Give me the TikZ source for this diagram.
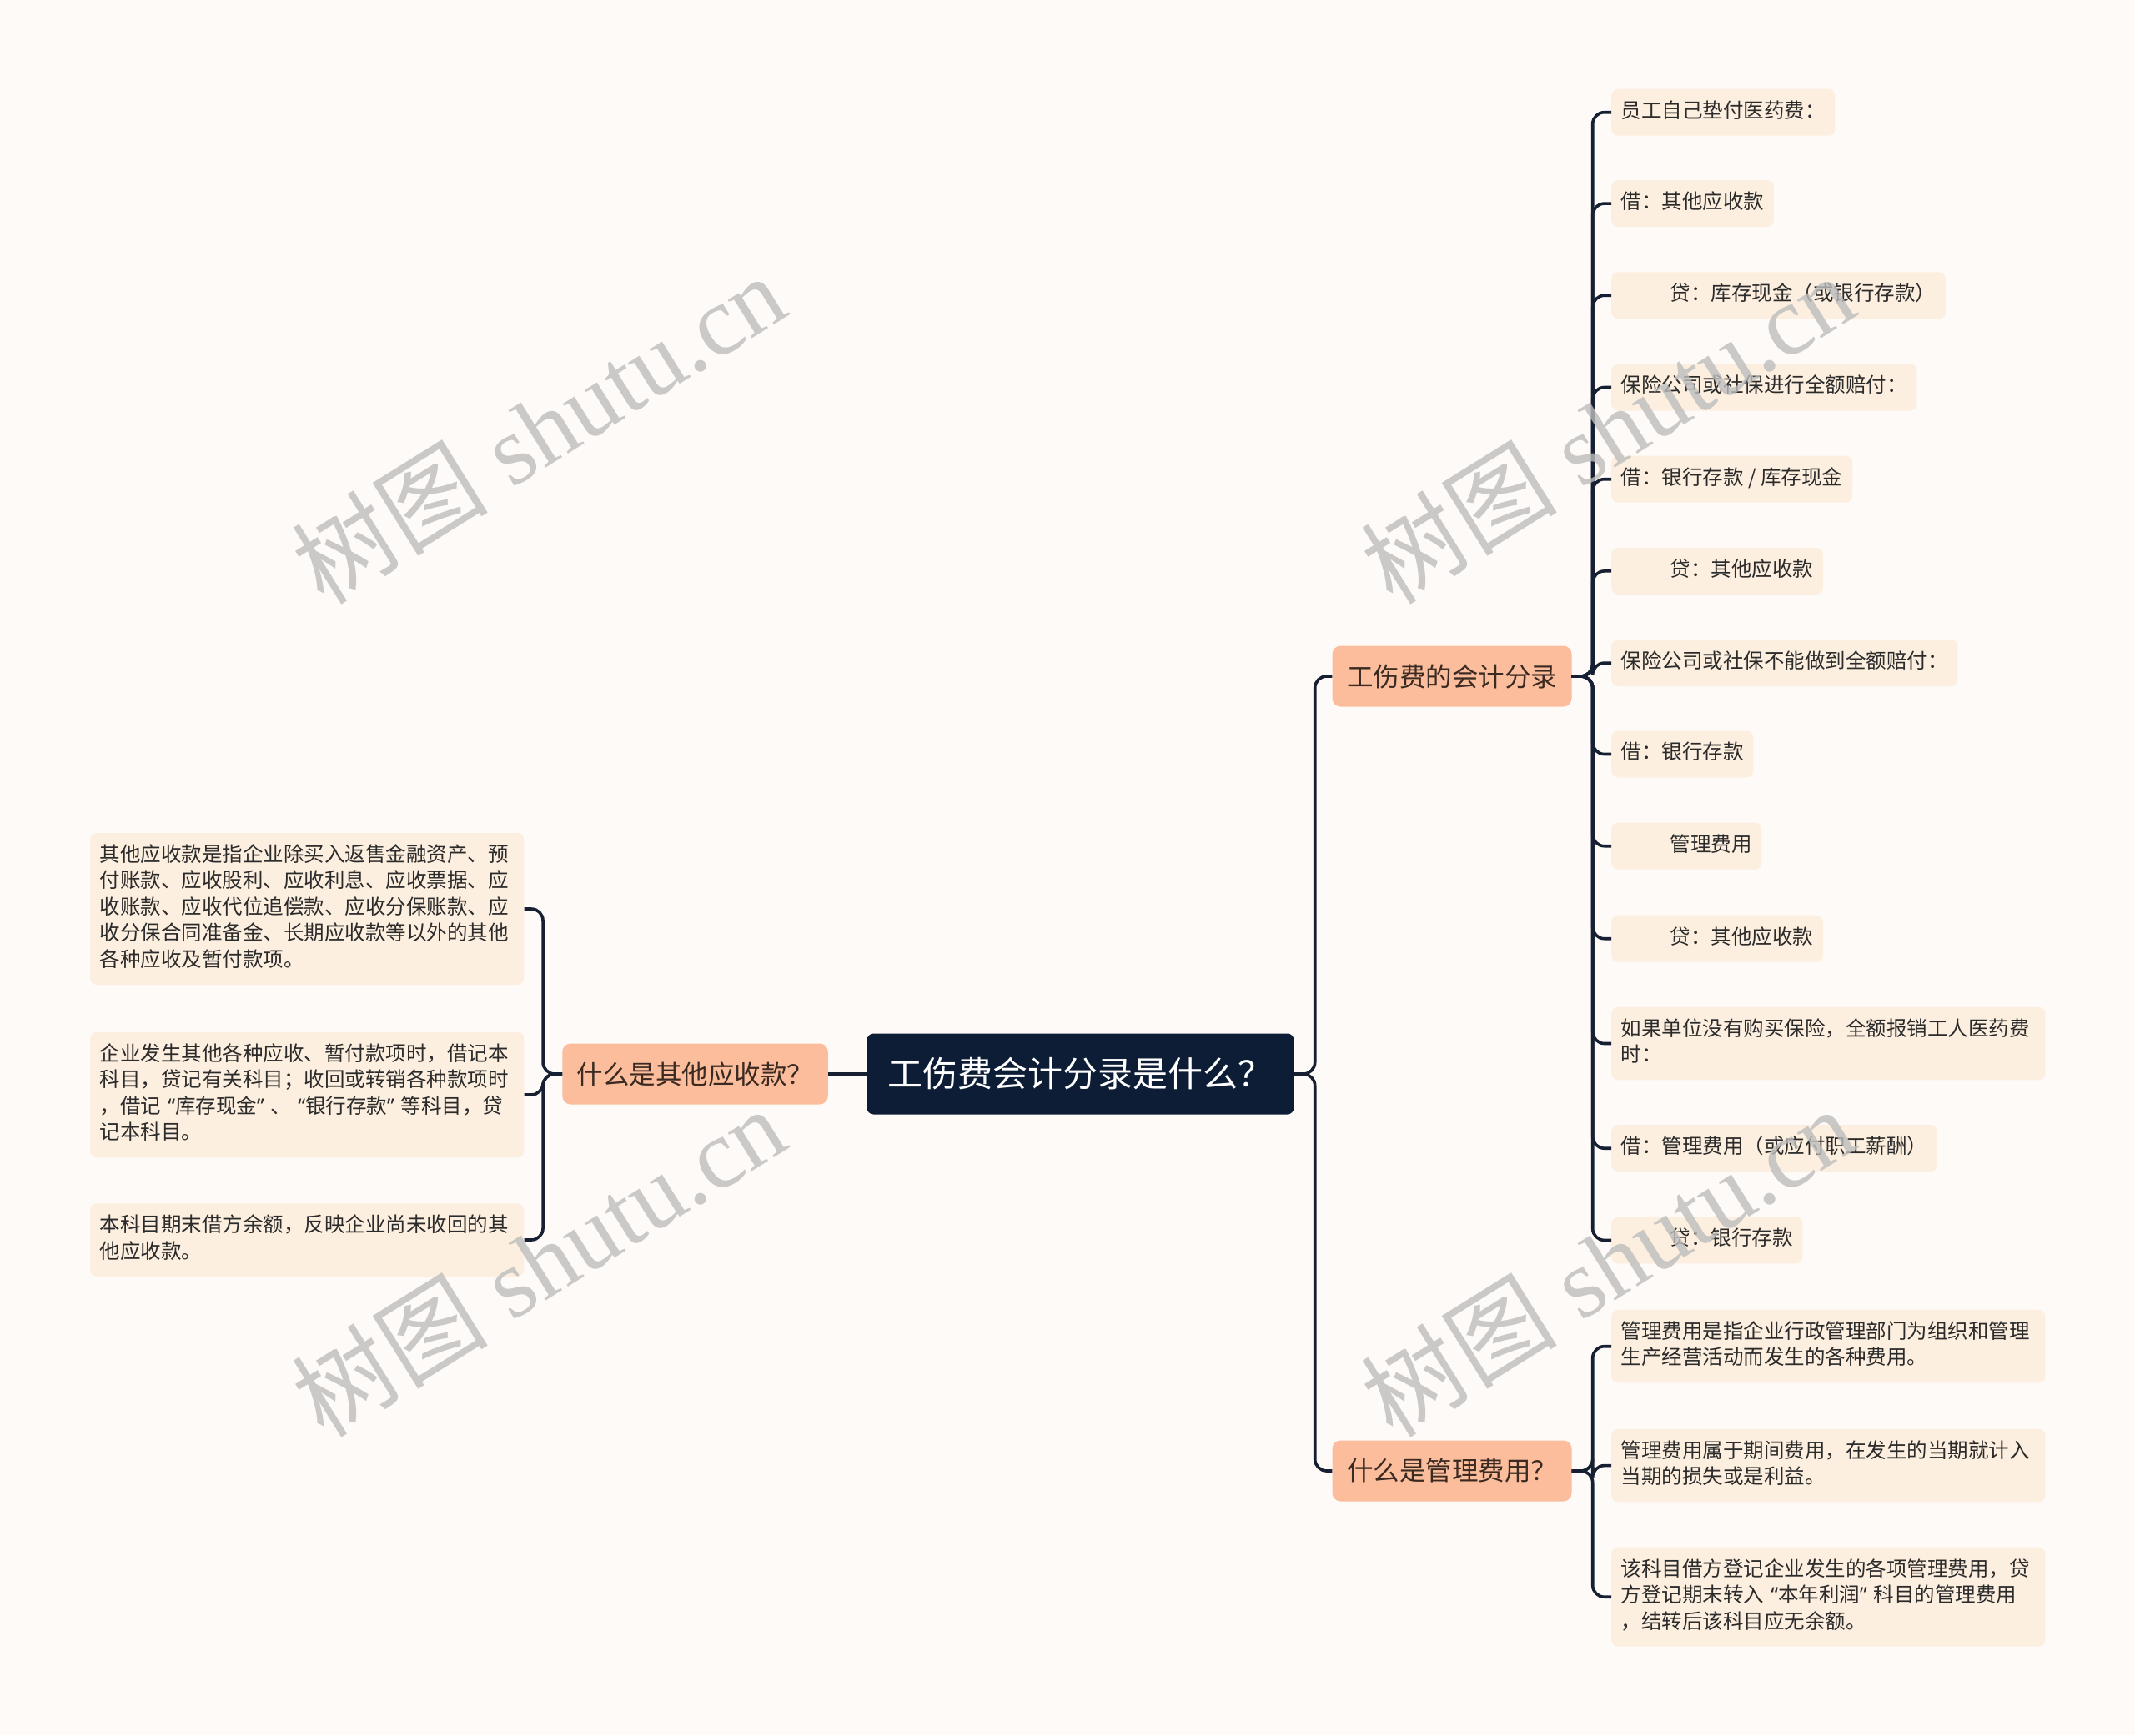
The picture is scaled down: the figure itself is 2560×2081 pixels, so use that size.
\documentclass[tikz,border=0pt]{standalone}
\usepackage{fontspec}
\newfontfamily\cjk{Noto Sans CJK SC}
\newfontfamily\latq{Noto Sans}
\newfontfamily\wmserif{Liberation Serif}
\newcommand\oq{\hspace{8pt}{\latq “}}
\newcommand\cq{{\latq ”}\hspace{8pt}}
\definecolor{bgc}{HTML}{FEFAF8}
\definecolor{leafc}{HTML}{FDEFDF}
\definecolor{branchc}{HTML}{FBBD9B}
\definecolor{rootc}{HTML}{0D1D36}
\definecolor{linec}{HTML}{172033}
\definecolor{leaftext}{HTML}{2B2B2B}
\definecolor{branchtext}{HTML}{3A2A22}
\definecolor{wmc}{HTML}{BDBDBD}
\newcommand\leaffont{\cjk\fontsize{24.5}{31.5}\selectfont}
\newcommand\branchfont{\cjk\fontsize{31.5}{38}\selectfont}
\newcommand\rootfont{\cjk\fontsize{42}{50}\selectfont}
\tikzset{
  leaf/.style={fill=leafc, rounded corners=8pt, inner xsep=11.6pt, inner ysep=12.25pt,
    font=\leaffont, text=leaftext, align=left, anchor=west},
  wleaf/.style={leaf, text width=497pt},
  branch/.style={fill=branchc, rounded corners=10pt, font=\branchfont, inner xsep=17.5pt,
    inner ysep=0pt, minimum height=73pt, text=branchtext},
  rootn/.style={fill=rootc, rounded corners=8pt, font=\rootfont, text=white, inner xsep=25pt,
    inner ysep=0pt, minimum height=97pt},
  conn/.style={draw=linec, line width=3.6pt, rounded corners=14pt},
  wm/.style={rotate=32, text=wmc, opacity=0.8, font=\wmserif\fontsize{118}{118}\selectfont}
}
\begin{document}
\begin{tikzpicture}[x=1pt,y=-1pt]
\useasboundingbox (0,0) rectangle (2560,2081);
\fill[bgc] (0,0) rectangle (2560,2081);

% root and branches
\node[rootn] (root) at (1295.5,1288) {工伤费会计分录是什么？};
\node[branch] (lb) at (833.5,1288) {什么是其他应收款？};
\node[branch] (r1) at (1741,811) {工伤费的会计分录};
\node[branch] (r2) at (1741,1764) {什么是管理费用？};

% right branch 1 leaves
\node[leaf] (a1) at (1932,134.7) {\strut 员工自己垫付医药费：};
\node[leaf] (a2) at (1932,244.1) {\strut 借：其他应收款};
\node[leaf] (a3) at (1932,354.3) {\strut\hspace*{59pt}贷：库存现金（或银行存款）};
\node[leaf] (a4) at (1932,464.5) {\strut 保险公司或社保进行全额赔付：};
\node[leaf] (a5) at (1932,574.7) {\strut 借：银行存款 / 库存现金};
\node[leaf] (a6) at (1932,684.9) {\strut\hspace*{59pt}贷：其他应收款};
\node[leaf] (a7) at (1932,795.1) {\strut 保险公司或社保不能做到全额赔付：};
\node[leaf] (a8) at (1932,904.5) {\strut 借：银行存款};
\node[leaf] (a9) at (1932,1014.7) {\strut\hspace*{59pt}管理费用};
\node[leaf] (a10) at (1932,1125.7) {\strut\hspace*{59pt}贷：其他应收款};
\node[wleaf] (a11) at (1932,1251.5) {\strut 如果单位没有购买保险，全额报销工人医药费\\\strut 时：};
\node[leaf] (a12) at (1932,1377.2) {\strut 借：管理费用（或应付职工薪酬）};
\node[leaf] (a13) at (1932,1487.4) {\strut\hspace*{59pt}贷：银行存款};

% right branch 2 leaves
\node[wleaf] (b1) at (1932,1614.7) {\strut 管理费用是指企业行政管理部门为组织和管理\\\strut 生产经营活动而发生的各种费用。};
\node[wleaf] (b2) at (1932,1757.6) {\strut 管理费用属于期间费用，在发生的当期就计入\\\strut 当期的损失或是利益。};
\node[wleaf] (b3) at (1932,1915.2) {\strut 该科目借方登记企业发生的各项管理费用，贷\\\strut 方登记期末转入\oq 本年利润\cq 科目的管理费用\\\strut ，结转后该科目应无余额。};

% left leaves
\node[wleaf] (c1) at (108,1090) {\strut 其他应收款是指企业除买入返售金融资产、预\\\strut 付账款、应收股利、应收利息、应收票据、应\\\strut 收账款、应收代位追偿款、应收分保账款、应\\\strut 收分保合同准备金、长期应收款等以外的其他\\\strut 各种应收及暂付款项。};
\node[wleaf] (c2) at (108,1313) {\strut 企业发生其他各种应收、暂付款项时，借记本\\\strut 科目，贷记有关科目；收回或转销各种款项时\\\strut ，借记\oq 库存现金\cq 、\oq 银行存款\cq 等科目，贷\\\strut 记本科目。};
\node[wleaf] (c3) at (108,1487) {\strut 本科目期末借方余额，反映企业尚未收回的其\\\strut 他应收款。};

% connectors
\draw[conn] (root.west) -- (lb.east);
\foreach \t in {r1,r2} \draw[conn] (root.east) -- ++(25,0) |- (\t.west);
\foreach \t in {a1,a2,a3,a4,a5,a6,a7,a8,a9,a10,a11,a12,a13} \draw[conn] (r1.east) -- ++(25,0) |- (\t.west);
\foreach \t in {b1,b2,b3} \draw[conn] (r2.east) -- ++(25,0) |- (\t.west);
\foreach \t in {c1,c2,c3} \draw[conn] (lb.west) -- ++(-23,0) |- (\t.east);

% watermarks
\node[wm] (w1) at (645,514) {{\cjk 树图} shutu.cn};
\node[wm] (w2) at (1927,514) {{\cjk 树图} shutu.cn};
\node[wm] (w3) at (645,1513) {{\cjk 树图} shutu.cn};
\node[wm] (w4) at (1927,1513) {{\cjk 树图} shutu.cn};
\end{tikzpicture}
\end{document}
